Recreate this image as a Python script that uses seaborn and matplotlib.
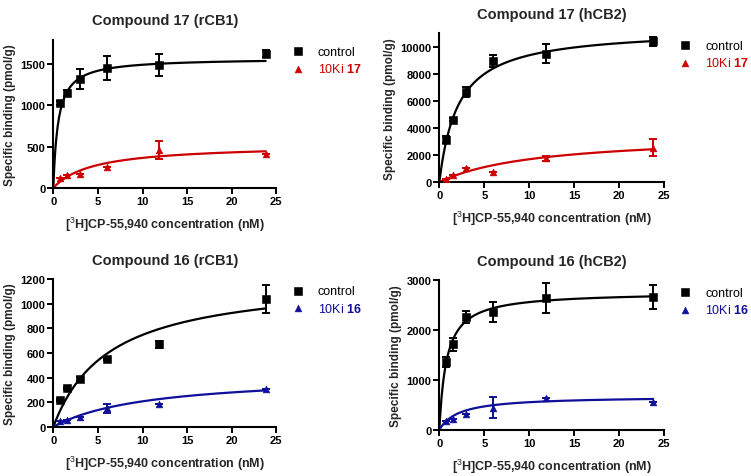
# -*- coding: utf-8 -*-
"""
Saturation binding of [3H]CP-55,940 with and without 10Ki of compounds 16/17.
Four panels: rCB1 / hCB2 for compound 17 (top) and compound 16 (bottom).
"""
import matplotlib
matplotlib.use('Agg')
import matplotlib.pyplot as plt
import numpy as np
import pandas as pd
import seaborn as sns

# Radioligand concentrations (nM), same for every panel.
conc = [0.75, 1.5, 3.0, 6.0, 11.9, 23.8]

# Compound 17, rCB1
c17_cb1_ctrl = [1027, 1150, 1320, 1460, 1490, 1630]
c17_cb1_ctrl_err = [25, 40, 120, 145, 130, 40]
c17_cb1_inh = [121, 162, 174, 251, 465, 412]
c17_cb1_inh_err = [0, 0, 0, 0, 110, 0]
c17_cb1_fit = {'control': (1575, 0.54), 'inh': (528, 4.5)}  # (Bmax, Kd)

# Compound 17, hCB2
c17_cb2_ctrl = [3150, 4630, 6650, 8950, 9500, 10400]
c17_cb2_ctrl_err = [250, 80, 350, 450, 720, 350]
c17_cb2_inh = [270, 540, 1083, 788, 1750, 2560]
c17_cb2_inh_err = [0, 0, 0, 0, 170, 650]
c17_cb2_fit = {'control': (11350, 2.1), 'inh': (3560, 11.0)}

# Compound 16, rCB1
c16_cb1_ctrl = [216, 316, 388, 550, 669, 1038]
c16_cb1_ctrl_err = [10, 10, 15, 10, 25, 115]
c16_cb1_inh = [46, 59, 81, 150, 186, 310]
c16_cb1_inh_err = [0, 0, 0, 38, 0, 0]
c16_cb1_fit = {'control': (1214, 6.26), 'inh': (429, 10.7)}

# Compound 16, hCB2
c16_cb2_ctrl = [1360, 1715, 2260, 2360, 2645, 2672]
c16_cb2_ctrl_err = [100, 130, 120, 200, 300, 240]
c16_cb2_inh = [167, 214, 315, 440, 630, 556]
c16_cb2_inh_err = [0, 0, 0, 210, 0, 0]
c16_cb2_fit = {'control': (2770, 0.8), 'inh': (675, 2.2)}

RED = '#CC0000'
NAVY = '#0F0F99'

sns.set_theme(style='ticks')
plt.rcParams['font.family'] = ['Liberation Sans', 'DejaVu Sans']
plt.rcParams['mathtext.fontset'] = 'custom'
plt.rcParams['mathtext.rm'] = 'Liberation Sans'
plt.rcParams['mathtext.bf'] = 'Liberation Sans:bold'

fig = plt.figure(figsize=(7.51, 4.77), dpi=100)

panels = [
    ('Compound 17 (rCB1)', [0.071, 0.604, 0.297, 0.311], 1800, [0, 500, 1000, 1500],
     c17_cb1_ctrl, c17_cb1_ctrl_err, c17_cb1_inh, c17_cb1_inh_err, c17_cb1_fit, RED, '17'),
    ('Compound 17 (hCB2)', [0.585, 0.616, 0.299, 0.312], 11000, [0, 2000, 4000, 6000, 8000, 10000],
     c17_cb2_ctrl, c17_cb2_ctrl_err, c17_cb2_inh, c17_cb2_inh_err, c17_cb2_fit, RED, '17'),
    ('Compound 16 (rCB1)', [0.071, 0.103, 0.297, 0.310], 1200, [0, 200, 400, 600, 800, 1000, 1200],
     c16_cb1_ctrl, c16_cb1_ctrl_err, c16_cb1_inh, c16_cb1_inh_err, c16_cb1_fit, NAVY, '16'),
    ('Compound 16 (hCB2)', [0.585, 0.097, 0.299, 0.313], 3000, [0, 1000, 2000, 3000],
     c16_cb2_ctrl, c16_cb2_ctrl_err, c16_cb2_inh, c16_cb2_inh_err, c16_cb2_fit, NAVY, '16'),
]

xfit = np.linspace(0, conc[-1], 300)

for (title, rect, ymax, yticks, ctrl, ctrl_err, inh, inh_err, fit, col, cpd) in panels:
    ax = fig.add_axes(rect)
    df = pd.DataFrame({'conc': conc * 2,
                       'binding': ctrl + inh,
                       'group': ['control'] * 6 + ['inh'] * 6})

    # one-site specific binding fit curves
    for grp, c in [('control', 'black'), ('inh', col)]:
        bmax, kd = fit[grp]
        curve = pd.DataFrame({'x': xfit, 'y': bmax * xfit / (kd + xfit)})
        sns.lineplot(data=curve, x='x', y='y', color=c, lw=1.6, ax=ax, legend=False)

    ax.errorbar(conc, ctrl, yerr=ctrl_err, fmt='none', ecolor='black',
                elinewidth=1.4, capsize=3, capthick=1.4)
    ax.errorbar(conc, inh, yerr=inh_err, fmt='none', ecolor=col,
                elinewidth=1.4, capsize=3, capthick=1.4)
    sns.scatterplot(data=df[df.group == 'control'], x='conc', y='binding',
                    marker='s', s=26, color='black', edgecolor='black',
                    ax=ax, label='control', zorder=5)
    sns.scatterplot(data=df[df.group == 'inh'], x='conc', y='binding',
                    marker='^', s=24, color=col, edgecolor=col,
                    ax=ax, label='10Ki $\\mathbf{' + cpd + '}$', zorder=5)

    ax.set_xlim(0, 25)
    ax.set_ylim(0, ymax)
    ax.set_xticks([0, 5, 10, 15, 20, 25])
    ax.set_yticks(yticks)
    sns.despine(ax=ax)
    for sp in ['left', 'bottom']:
        ax.spines[sp].set_linewidth(1.5)
        ax.spines[sp].set_color('black')
    ax.tick_params(axis='both', direction='out', length=4.5, width=1.4,
                   labelsize=8, pad=1.2, colors='black')
    for lab in ax.get_xticklabels() + ax.get_yticklabels():
        lab.set_fontweight('bold')
    ax.set_title(title, fontsize=10.5, fontweight='bold', pad=11)
    ax.set_xlabel('[$^{3}$H]CP-55,940 concentration (nM)', fontsize=9,
                  fontweight='bold', labelpad=6.5)
    ax.set_ylabel('Specific binding (pmol/g)', fontsize=8.5, fontweight='bold',
                  labelpad=3)

    axw = rect[2] * 751
    leg = ax.legend(loc='upper left', bbox_to_anchor=(1 + 15 / axw, 0.958),
                    frameon=False, fontsize=9, handletextpad=1.1,
                    borderaxespad=0, borderpad=0, labelspacing=0.35,
                    handlelength=1.0)
    leg.get_texts()[0].set_color('black')
    leg.get_texts()[1].set_color(col)

fig.savefig('out.png', dpi=100)
